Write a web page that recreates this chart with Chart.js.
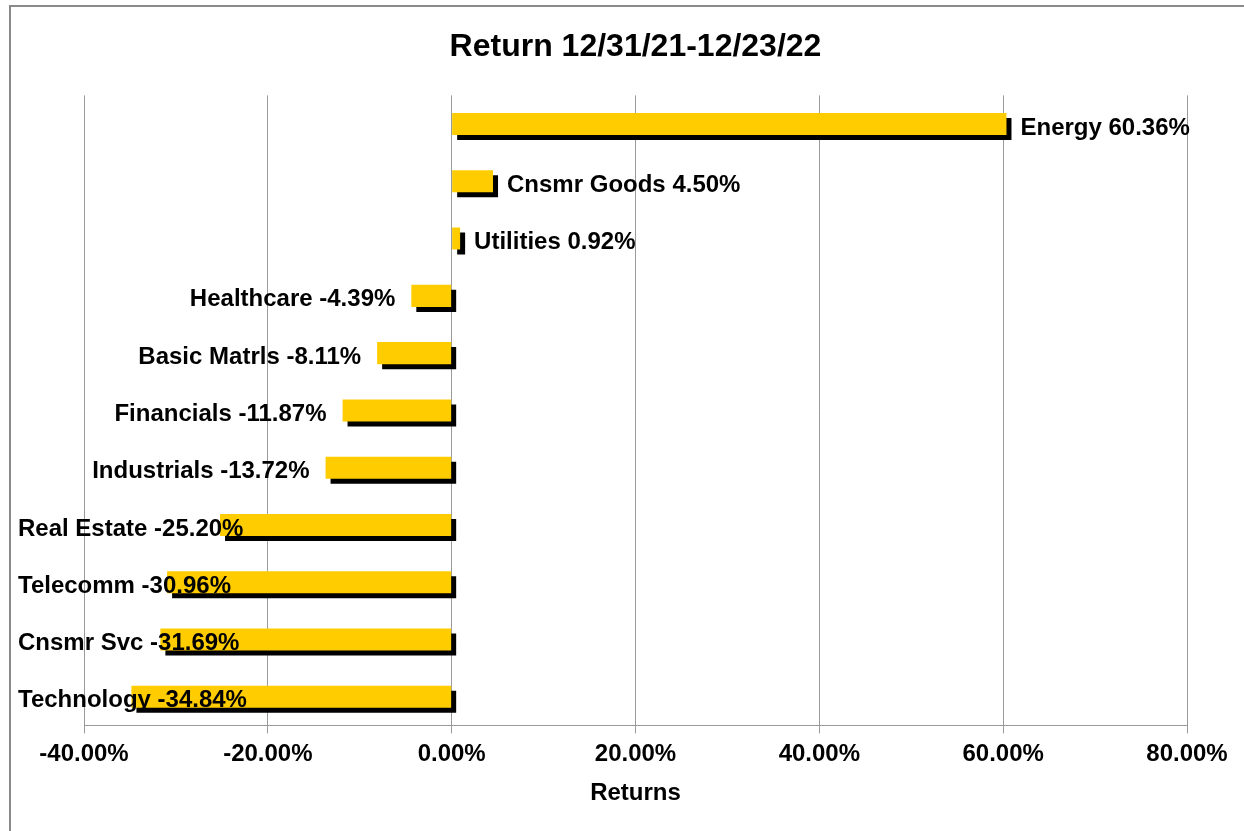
<!DOCTYPE html>
<html>
<head>
<meta charset="utf-8">
<title>Return 12/31/21-12/23/22</title>
<script src="https://cdn.jsdelivr.net/npm/chart.js@4.4.0/dist/chart.umd.min.js"></script>
<style>
  html, body { margin: 0; padding: 0; background: #fff; }
  canvas { display: block; }
</style>
</head>
<body>
<canvas id="myChart" width="1244" height="831"></canvas>
<script>
// sectors, top to bottom
var sectors = ['Energy', 'Cnsmr Goods', 'Utilities', 'Healthcare', 'Basic Matrls', 'Financials',
  'Industrials', 'Real Estate', 'Telecomm', 'Cnsmr Svc', 'Technology'];
// return in percent
var returns = [60.36, 4.50, 0.92, -4.39, -8.11, -11.87, -13.72, -25.20, -30.96, -31.69, -34.84];
var xTicks = [-40, -20, 0, 20, 40, 60, 80];

var FONT = '"Liberation Sans", Arial, sans-serif';

// black drop shadow under the yellow bars
var barShadow = {
  id: 'barShadow',
  beforeDatasetDraw: function (chart) {
    var c = chart.ctx;
    c.save();
    c.shadowColor = '#000';
    c.shadowOffsetX = 5;
    c.shadowOffsetY = 5;
    c.shadowBlur = 0;
  },
  afterDatasetDraw: function (chart) {
    chart.ctx.restore();
  }
};

// "Name value%" label at the outer end of each bar
var barLabels = {
  id: 'barLabels',
  afterDatasetsDraw: function (chart) {
    var c = chart.ctx;
    var meta = chart.getDatasetMeta(0);
    c.save();
    c.font = 'bold 24px ' + FONT;
    c.fillStyle = '#000';
    c.textBaseline = 'middle';
    meta.data.forEach(function (bar, i) {
      var txt = sectors[i] + ' ' + returns[i].toFixed(2) + '%';
      var y = bar.y + 4;
      if (returns[i] >= 0) {
        c.textAlign = 'left';
        c.fillText(txt, bar.x + 14, y);
      } else {
        var w = c.measureText(txt).width;
        var right = bar.x - 16;
        if (right - w < 18) {
          c.textAlign = 'left';
          c.fillText(txt, 18, y);
        } else {
          c.textAlign = 'right';
          c.fillText(txt, right, y);
        }
      }
    });
    c.restore();
  }
};

// white background and the grey frame on the left / top
var frame = {
  id: 'frame',
  beforeDraw: function (chart) {
    var c = chart.ctx;
    c.save();
    c.fillStyle = '#fff';
    c.fillRect(0, 0, chart.width, chart.height);
    c.fillStyle = '#8a8a8a';
    c.fillRect(9, 5, chart.width - 9, 2);
    c.fillRect(9, 5, 2, chart.height - 5);
    c.restore();
  }
};

var ctx = document.getElementById('myChart').getContext('2d');
var chart = new Chart(ctx, {
  type: 'bar',
  data: {
    labels: sectors,
    datasets: [{
      label: 'Returns',
      data: returns,
      backgroundColor: '#FFCC00',
      borderWidth: 0,
      barPercentage: 0.385,
      categoryPercentage: 1
    }]
  },
  options: {
    indexAxis: 'y',
    responsive: false,
    animation: false,
    layout: { padding: { left: 84, right: 57, top: 0, bottom: 23 } },
    plugins: {
      legend: { display: false },
      tooltip: { enabled: false },
      title: {
        display: true,
        text: 'Return 12/31/21-12/23/22',
        color: '#000',
        font: { family: FONT, size: 32, weight: 'bold' },
        padding: { top: 28, bottom: 29 }
      }
    },
    scales: {
      x: {
        min: xTicks[0],
        max: xTicks[xTicks.length - 1],
        afterBuildTicks: function (axis) {
          axis.ticks = xTicks.map(function (v) { return { value: v }; });
        },
        grid: { color: '#9a9a9a', lineWidth: 1, tickLength: 8 },
        border: { color: '#9a9a9a', width: 1 },
        ticks: {
          padding: 7,
          color: '#000',
          font: { family: FONT, size: 24, weight: 'bold' },
          callback: function (v) { return Number(v).toFixed(2) + '%'; }
        },
        title: {
          display: true,
          text: 'Returns',
          color: '#000',
          font: { family: FONT, size: 24, weight: 'bold' },
          padding: { top: 3, bottom: 0 }
        }
      },
      y: { display: false }
    }
  },
  plugins: [frame, barShadow, barLabels]
});
</script>
</body>
</html>
